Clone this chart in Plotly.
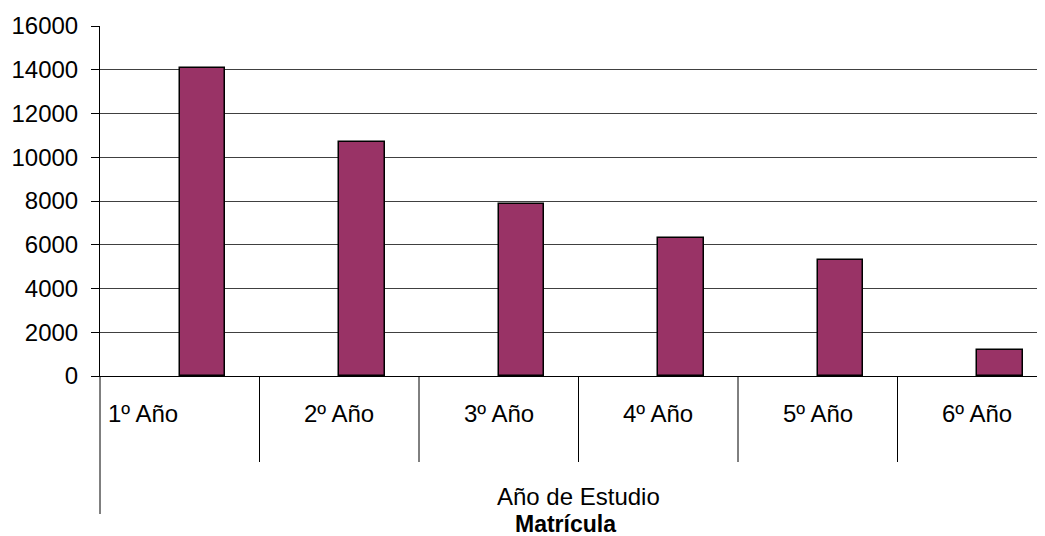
import plotly.graph_objects as go

categories = ["1º Año", "2º Año", "3º Año", "4º Año", "5º Año", "6º Año"]
values = [14080, 10700, 7870, 6300, 5300, 1190]
axis_title = "Año de Estudio"
chart_title = "Matrícula"
y_ticks = [0, 2000, 4000, 6000, 8000, 10000, 12000, 14000, 16000]
y_ticktext = [str(v) for v in y_ticks]

# the page adds an 8px body margin, so the figure is drawn 8px smaller
W, H = 1037, 528
ML, MT, MB = 92, 18, 160
plot_h = H - MT - MB
FONT = "Liberation Sans, Arial, sans-serif"
FS = 24
CAT_PX = 159.5

idx = list(range(len(categories)))
bar_w = 1 / 3.5
fig = go.Figure()
fig.add_trace(go.Bar(
    x=[i + bar_w / 2 for i in idx], y=values, width=bar_w,
    marker=dict(color="#993366", line=dict(color="black", width=1.5)),
    showlegend=False,
))

def py(px_below):
    return -px_below / plot_h

shapes = []
shapes.append(dict(type="line", xref="paper", yref="paper", x0=0, x1=0,
                   y0=0, y1=py(138), line=dict(color="black", width=1)))
for i in idx[:-1]:
    shapes.append(dict(type="line", xref="x", yref="paper", x0=i + 0.5, x1=i + 0.5,
                       y0=0, y1=py(86), line=dict(color="black", width=1)))

annotations = []
for i, c in zip(idx, categories):
    if i == 0:
        annotations.append(dict(x=i - 0.46, xref="x", y=py(37), yref="paper", text=c,
                                showarrow=False, xanchor="left", yanchor="middle",
                                font=dict(size=FS, color="black", family=FONT)))
    else:
        annotations.append(dict(x=i, xref="x", y=py(37), yref="paper", text=c,
                                showarrow=False, xanchor="center", yanchor="middle",
                                font=dict(size=FS, color="black", family=FONT)))
annotations.append(dict(x=2.5, xref="x", y=py(120), yref="paper", text=axis_title,
                        showarrow=False, xanchor="center", yanchor="middle",
                        font=dict(size=FS, color="black", family=FONT)))
annotations.append(dict(x=2.42, xref="x", y=py(148), yref="paper", text="<b>" + chart_title + "</b>",
                        showarrow=False, xanchor="center", yanchor="middle",
                        font=dict(size=FS - 1, color="black", family=FONT)))

fig.update_layout(
    width=W, height=H,
    margin=dict(l=ML, r=0, t=MT, b=MB),
    paper_bgcolor="white", plot_bgcolor="white",
    font=dict(family=FONT, size=FS, color="black"),
    bargap=0,
    xaxis=dict(range=[-0.5, -0.5 + (W - ML) / CAT_PX], showticklabels=False, ticks="",
               showgrid=False, zeroline=False, showline=True, linecolor="black", linewidth=1,
               fixedrange=True),
    yaxis=dict(range=[0, 16000], tickvals=y_ticks, ticktext=y_ticktext, ticks="outside", ticklen=8,
               tickcolor="black", showline=True, linecolor="black", linewidth=1,
               showgrid=True, gridcolor="#404040", gridwidth=1, zeroline=False,
               tickfont=dict(size=FS, family=FONT, color="black"), ticklabelstandoff=8),
    shapes=shapes, annotations=annotations,
)

fig.write_html("out.html")
